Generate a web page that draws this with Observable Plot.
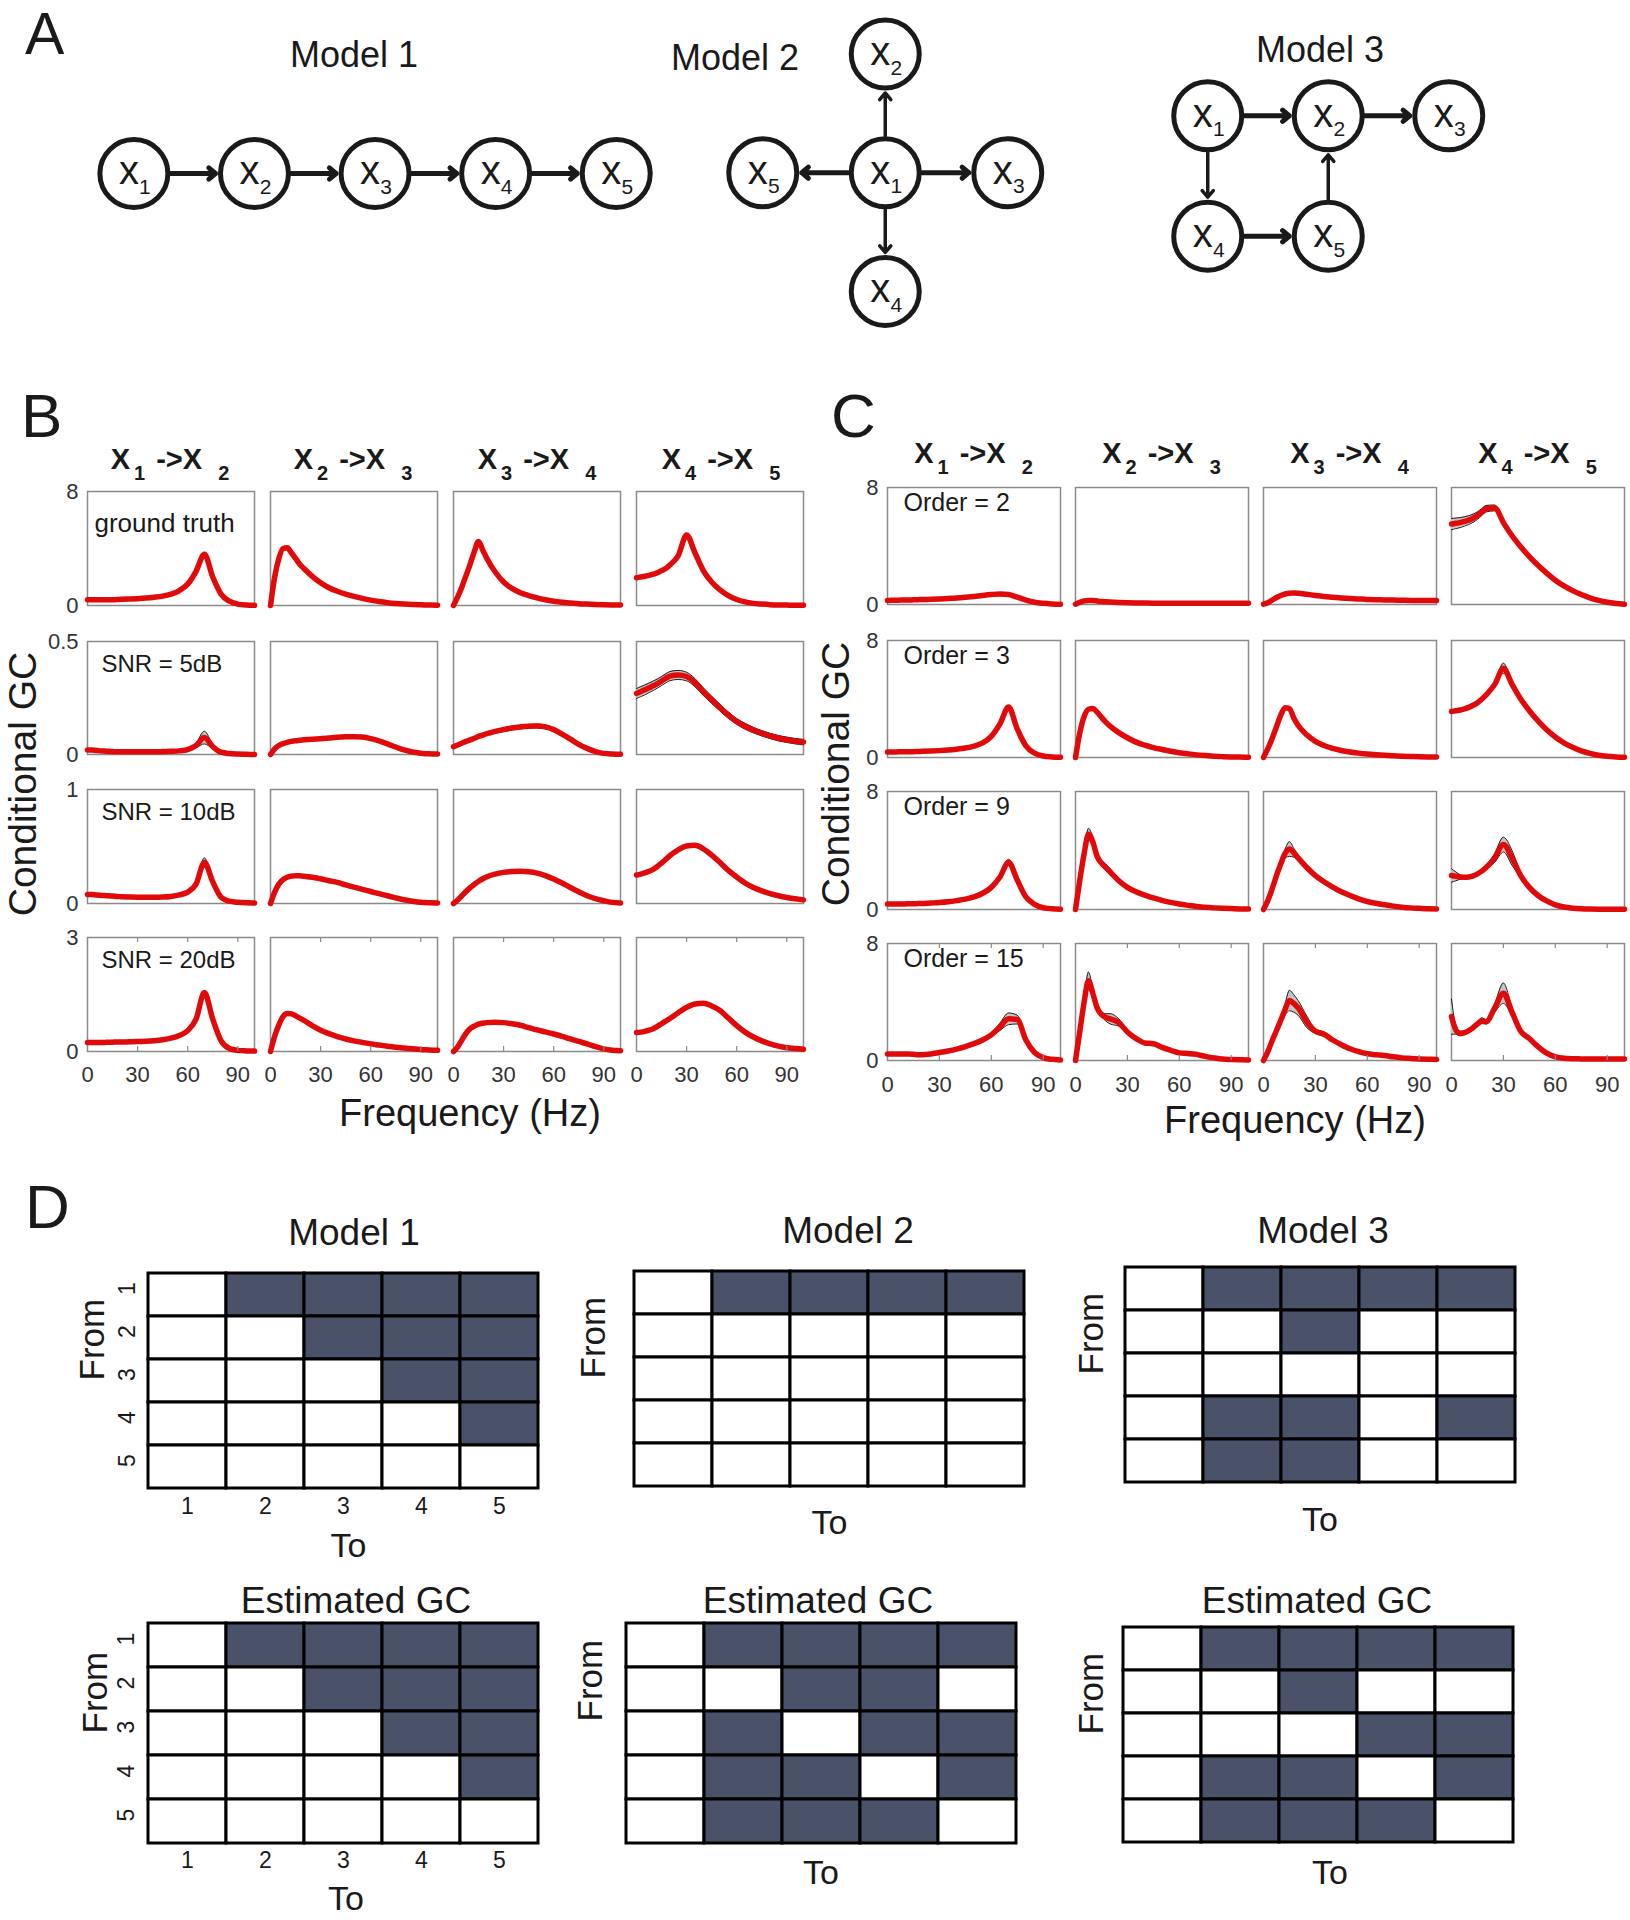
<!DOCTYPE html>
<html>
<head>
<meta charset="utf-8">
<script src="https://cdn.jsdelivr.net/npm/d3@7"></script>
<script src="https://cdn.jsdelivr.net/npm/@observablehq/plot@0.6"></script>
<style>
html, body { margin: 0; padding: 0; background: #fff; }
#fig { position: relative; width: 1630px; height: 1920px; overflow: hidden; background: #fff;
  font-family: "Liberation Sans", Arial, Helvetica, sans-serif; }
#fig .p { position: absolute; }
#fig svg { overflow: visible; }
#overlay { position: absolute; left: 0; top: 0; pointer-events: none; }
</style>
</head>
<body>
<div id="fig"></div>
<script>
// ---------------- DATA ----------------
// Panel A: network layouts (grid units) and directed edges
const model1Nodes = [{id:1,gx:0,gy:0},{id:2,gx:1,gy:0},{id:3,gx:2,gy:0},{id:4,gx:3,gy:0},{id:5,gx:4,gy:0}];
const model1Edges = [[1,2],[2,3],[3,4],[4,5]];
const model2Nodes = [{id:1,gx:0,gy:0},{id:2,gx:0,gy:-1},{id:3,gx:1,gy:0},{id:4,gx:0,gy:1},{id:5,gx:-1,gy:0}];
const model2Edges = [[1,2],[1,3],[1,4],[1,5]];
const model3Nodes = [{id:1,gx:0,gy:0},{id:2,gx:1,gy:0},{id:3,gx:2,gy:0},{id:4,gx:0,gy:1},{id:5,gx:1,gy:1}];
const model3Edges = [[1,2],[2,3],[1,4],[4,5],[5,2]];
const modelTitles = ["Model 1", "Model 2", "Model 3"];

// Panels B and C: spectral conditional GC
const freq = [0,2.5,5,7.5,10,12.5,15,17.5,20,25,30,35,40,45,50,55,60,65,70,75,80,85,90,95,100];
const freqTicks = [0, 30, 60, 90];
const pairs = ["x1→x2", "x2→x3", "x3→x4", "x4→x5"];
const pairFrom = [1, 2, 3, 4];
const pairTo = [2, 3, 4, 5];

const bLabels = ["ground truth", "SNR = 5dB", "SNR = 10dB", "SNR = 20dB"];
const bYMax = [8, 0.5, 1, 3];
const bGroundTruth = [
  [0.4,0.4,0.4,0.4,0.4,0.4,0.4,0.42,0.43,0.45,0.48,0.52,0.58,0.66,0.8,1.05,1.5,2.4,3.6,2.0,0.8,0.3,0.1,0.03,0.01],
  [0,2.0,3.3,4.0,4.05,3.7,3.3,2.9,2.6,2.05,1.6,1.25,1.0,0.8,0.64,0.5,0.38,0.28,0.2,0.14,0.1,0.07,0.05,0.03,0.02],
  [0,0.6,1.3,2.1,2.9,3.8,4.5,3.9,3.3,2.35,1.65,1.2,0.9,0.7,0.54,0.4,0.3,0.23,0.18,0.13,0.1,0.07,0.05,0.04,0.03],
  [1.95,2.0,2.05,2.12,2.2,2.3,2.45,2.6,2.85,3.5,4.95,3.7,2.45,1.65,1.1,0.7,0.42,0.25,0.15,0.1,0.06,0.04,0.03,0.02,0.02]
];
const bSNR5 = [
  [0.02,0.02,0.018,0.016,0.015,0.014,0.013,0.012,0.012,0.012,0.012,0.012,0.012,0.013,0.014,0.016,0.022,0.04,0.075,0.035,0.01,0.004,0.002,0.001,0],
  [0,0.025,0.04,0.048,0.054,0.058,0.061,0.063,0.065,0.068,0.07,0.073,0.076,0.078,0.079,0.077,0.07,0.06,0.047,0.033,0.02,0.011,0.006,0.003,0.002],
  [0.035,0.042,0.05,0.058,0.065,0.072,0.08,0.086,0.092,0.102,0.11,0.117,0.122,0.125,0.126,0.122,0.11,0.09,0.068,0.045,0.027,0.013,0.005,0.002,0.001],
  [0.27,0.278,0.286,0.295,0.304,0.314,0.325,0.337,0.347,0.352,0.345,0.318,0.278,0.242,0.207,0.174,0.146,0.125,0.108,0.094,0.082,0.072,0.065,0.059,0.055]
];
const bSNR5Spread = [
  [0.004,0.003,0.003,0.003,0.003,0.003,0.003,0.003,0.003,0.003,0.003,0.003,0.003,0.003,0.003,0.003,0.004,0.01,0.028,0.01,0.004,0.002,0.002,0.001,0.001],
  null,
  [0.004,0.004,0.005,0.005,0.005,0.006,0.006,0.006,0.007,0.007,0.008,0.008,0.008,0.008,0.008,0.008,0.007,0.006,0.005,0.005,0.004,0.003,0.003,0.003,0.003],
  [0.022,0.022,0.022,0.021,0.021,0.02,0.02,0.02,0.02,0.02,0.019,0.018,0.017,0.016,0.015,0.014,0.013,0.013,0.012,0.012,0.012,0.012,0.012,0.012,0.012]
];
const bSNR10 = [
  [0.08,0.078,0.075,0.072,0.07,0.067,0.065,0.062,0.06,0.057,0.055,0.054,0.054,0.056,0.062,0.075,0.1,0.17,0.36,0.19,0.055,0.02,0.01,0.006,0.005],
  [0,0.1,0.17,0.21,0.23,0.24,0.244,0.243,0.24,0.23,0.217,0.2,0.185,0.163,0.143,0.124,0.105,0.086,0.068,0.05,0.033,0.02,0.01,0.006,0.004],
  [0,0.03,0.068,0.105,0.14,0.168,0.195,0.217,0.235,0.258,0.273,0.28,0.282,0.278,0.267,0.245,0.215,0.18,0.14,0.103,0.068,0.042,0.024,0.01,0.005],
  [0.25,0.258,0.268,0.282,0.3,0.325,0.355,0.387,0.42,0.47,0.505,0.51,0.48,0.425,0.36,0.29,0.232,0.18,0.14,0.11,0.087,0.068,0.053,0.042,0.032]
];
const bSNR10Spread = [
  [0.005,0.005,0.005,0.005,0.005,0.005,0.005,0.005,0.005,0.005,0.005,0.005,0.005,0.005,0.005,0.005,0.006,0.012,0.04,0.012,0.005,0.005,0.005,0.005,0.005],
  null,
  null,
  [0.008,0.008,0.008,0.008,0.008,0.009,0.01,0.011,0.012,0.014,0.015,0.015,0.014,0.012,0.01,0.009,0.008,0.008,0.008,0.008,0.008,0.008,0.008,0.008,0.008]
];
const bSNR20 = [
  [0.24,0.24,0.24,0.24,0.24,0.245,0.245,0.25,0.25,0.255,0.26,0.27,0.285,0.31,0.35,0.42,0.55,0.85,1.55,0.85,0.28,0.08,0.03,0.015,0.01],
  [0,0.4,0.7,0.92,1.0,0.99,0.94,0.88,0.82,0.68,0.56,0.47,0.39,0.33,0.28,0.24,0.2,0.17,0.14,0.11,0.09,0.07,0.05,0.04,0.03],
  [0,0.12,0.3,0.48,0.6,0.67,0.72,0.745,0.76,0.77,0.76,0.73,0.69,0.63,0.57,0.515,0.46,0.4,0.33,0.265,0.2,0.13,0.07,0.035,0.02],
  [0.5,0.51,0.53,0.56,0.6,0.66,0.73,0.8,0.87,1.02,1.16,1.25,1.27,1.2,1.08,0.88,0.68,0.51,0.38,0.28,0.2,0.14,0.1,0.08,0.06]
];

const cLabels = ["Order = 2", "Order = 3", "Order = 9", "Order = 15"];
const cYMax = [8, 8, 8, 8];
const cOrder2 = [
  [0.28,0.29,0.29,0.3,0.3,0.31,0.32,0.33,0.34,0.36,0.38,0.41,0.44,0.49,0.55,0.62,0.68,0.72,0.68,0.5,0.3,0.15,0.08,0.04,0.02],
  [0.02,0.15,0.25,0.28,0.27,0.24,0.21,0.19,0.17,0.14,0.12,0.11,0.1,0.09,0.09,0.08,0.08,0.08,0.08,0.08,0.08,0.08,0.08,0.08,0.08],
  [0.02,0.12,0.3,0.48,0.62,0.72,0.77,0.78,0.77,0.7,0.62,0.55,0.5,0.45,0.41,0.38,0.35,0.33,0.31,0.3,0.29,0.28,0.28,0.27,0.27],
  [5.5,5.55,5.6,5.68,5.77,5.9,6.08,6.32,6.55,6.6,5.6,4.7,3.95,3.28,2.68,2.14,1.66,1.27,0.95,0.68,0.46,0.28,0.15,0.07,0.02]
];
const cOrder2Spread = [null, null, null,
  [0.38,0.36,0.34,0.32,0.3,0.28,0.26,0.24,0.22,0.2,0.25,0.12,0.06,0.05,0.05,0.04,0.04,0.03,0.03,0.03,0.02,0.02,0.02,0.02,0.02]
];
const cOrder3 = [
  [0.38,0.38,0.38,0.39,0.39,0.4,0.4,0.41,0.42,0.44,0.47,0.51,0.57,0.65,0.78,1.0,1.45,2.3,3.45,1.95,0.8,0.3,0.1,0.04,0.02],
  [0,1.7,2.8,3.3,3.35,3.1,2.75,2.42,2.15,1.7,1.35,1.05,0.85,0.68,0.55,0.43,0.33,0.25,0.18,0.13,0.09,0.06,0.04,0.03,0.02],
  [0,0.6,1.3,2.1,2.9,3.4,3.35,2.7,2.2,1.55,1.1,0.82,0.62,0.48,0.38,0.3,0.24,0.19,0.15,0.12,0.09,0.07,0.05,0.04,0.03],
  [3.15,3.2,3.25,3.33,3.43,3.57,3.75,3.98,4.28,5.0,6.1,5.0,4.0,3.2,2.5,1.9,1.4,1.0,0.7,0.45,0.28,0.15,0.08,0.04,0.02]
];
const cOrder3Spread = [null, null, null,
  [0.06,0.06,0.06,0.06,0.06,0.06,0.06,0.06,0.07,0.1,0.35,0.1,0.06,0.05,0.05,0.04,0.04,0.04,0.03,0.03,0.03,0.03,0.03,0.03,0.03]
];
const cOrder9 = [
  [0.38,0.38,0.38,0.38,0.38,0.39,0.39,0.4,0.41,0.44,0.47,0.52,0.6,0.7,0.85,1.1,1.5,2.2,3.2,2.0,0.85,0.35,0.12,0.05,0.02],
  [0,2.0,3.8,5.1,4.6,3.6,3.15,2.85,2.55,1.95,1.5,1.2,0.98,0.78,0.62,0.48,0.37,0.28,0.2,0.15,0.11,0.08,0.06,0.04,0.03],
  [0,0.6,1.4,2.3,3.1,3.8,4.1,3.85,3.5,2.85,2.3,1.88,1.52,1.2,0.95,0.72,0.54,0.42,0.32,0.23,0.16,0.11,0.08,0.05,0.04],
  [2.3,2.25,2.2,2.18,2.2,2.28,2.42,2.6,2.85,3.5,4.4,3.5,2.3,1.5,0.95,0.58,0.32,0.17,0.09,0.05,0.03,0.02,0.02,0.02,0.02]
];
const cOrder9Spread = [
  [0.03,0.03,0.03,0.03,0.03,0.03,0.03,0.03,0.03,0.03,0.03,0.03,0.03,0.04,0.05,0.06,0.08,0.12,0.2,0.1,0.05,0.04,0.03,0.03,0.03],
  [0.03,0.1,0.2,0.4,0.3,0.15,0.15,0.22,0.22,0.12,0.06,0.05,0.05,0.04,0.04,0.03,0.03,0.03,0.03,0.03,0.03,0.03,0.03,0.03,0.03],
  [0.03,0.05,0.08,0.12,0.2,0.3,0.5,0.3,0.2,0.12,0.08,0.1,0.06,0.05,0.04,0.04,0.03,0.03,0.03,0.03,0.03,0.03,0.03,0.03,0.03],
  [0.45,0.3,0.15,0.08,0.06,0.06,0.06,0.07,0.1,0.3,0.5,0.5,0.15,0.08,0.05,0.04,0.03,0.03,0.03,0.03,0.02,0.02,0.02,0.02,0.02]
];
const cOrder15 = [
  [0.45,0.45,0.44,0.44,0.45,0.44,0.42,0.4,0.4,0.45,0.55,0.65,0.78,0.95,1.15,1.4,1.75,2.3,2.85,2.8,1.4,0.55,0.2,0.08,0.04],
  [0,2.0,4.0,5.45,4.6,3.6,3.15,2.95,2.85,2.6,1.95,1.5,1.2,1.15,0.9,0.7,0.52,0.48,0.42,0.28,0.18,0.1,0.07,0.05,0.04],
  [0,0.6,1.35,2.05,2.75,3.5,4.1,3.9,3.6,2.65,2.0,1.8,1.4,1.08,0.8,0.6,0.46,0.4,0.34,0.25,0.18,0.14,0.11,0.09,0.07],
  [3.0,2.1,1.85,1.9,2.05,2.25,2.5,2.72,2.65,3.6,4.6,3.3,2.0,1.5,0.95,0.5,0.25,0.15,0.12,0.11,0.1,0.1,0.1,0.1,0.1]
];
const cOrder15Spread = [
  [0.03,0.03,0.03,0.03,0.03,0.03,0.03,0.03,0.03,0.03,0.03,0.04,0.04,0.04,0.05,0.06,0.1,0.25,0.4,0.3,0.1,0.05,0.03,0.03,0.03],
  [0.03,0.1,0.3,0.6,0.3,0.2,0.15,0.25,0.35,0.25,0.1,0.08,0.06,0.06,0.05,0.04,0.04,0.04,0.04,0.03,0.03,0.03,0.03,0.03,0.03],
  [0.03,0.05,0.08,0.15,0.25,0.4,0.7,0.6,0.5,0.4,0.15,0.15,0.08,0.06,0.05,0.04,0.04,0.04,0.04,0.03,0.03,0.03,0.03,0.03,0.03],
  [1.2,0.3,0.15,0.1,0.08,0.08,0.1,0.2,0.15,0.3,0.7,0.3,0.15,0.08,0.06,0.05,0.04,0.04,0.03,0.03,0.03,0.03,0.03,0.03,0.03]
];

// Panel D: connectivity matrices (row = From, column = To)
const nodeIds = [1, 2, 3, 4, 5];
const m1Truth = [[0,1,1,1,1],[0,0,1,1,1],[0,0,0,1,1],[0,0,0,0,1],[0,0,0,0,0]];
const m1Est   = [[0,1,1,1,1],[0,0,1,1,1],[0,0,0,1,1],[0,0,0,0,1],[0,0,0,0,0]];
const m2Truth = [[0,1,1,1,1],[0,0,0,0,0],[0,0,0,0,0],[0,0,0,0,0],[0,0,0,0,0]];
const m2Est   = [[0,1,1,1,1],[0,0,1,1,0],[0,1,0,1,1],[0,1,1,0,1],[0,1,1,1,0]];
const m3Truth = [[0,1,1,1,1],[0,0,1,0,0],[0,0,0,0,0],[0,1,1,0,1],[0,1,1,0,0]];
const m3Est   = [[0,1,1,1,1],[0,0,1,0,0],[0,0,0,1,1],[0,1,1,0,1],[0,1,1,1,0]];

// ---------------- STYLE ----------------
const FONT = '"Liberation Sans", Arial, Helvetica, sans-serif';
const NARROW = '"Liberation Sans Narrow", "Arial Narrow", "Liberation Sans", Arial, sans-serif';
const RED = "#e10a0a";
const FRAME = "#8a8a8a";
const BAND = "#c4c4c4";
const DARK = "#4a5269";
const INK = "#1a1a1a";
const curve = "monotone-x";

const fig = document.getElementById("fig");
function place(svg, left, top) {
  const d = document.createElement("div");
  d.className = "p";
  d.style.left = left + "px";
  d.style.top = top + "px";
  d.appendChild(svg);
  fig.appendChild(d);
}
const baseStyle = {background: "transparent", fontFamily: FONT, color: "#333", overflow: "visible"};

// ---------------- PANEL A ----------------
function networkPlot(nodes, edges, sx, sy, xdom, ydom) {
  const byId = new Map(nodes.map(n => [n.id, n]));
  const links = edges.map(([a, b]) => ({
    x1: byId.get(a).gx, y1: byId.get(a).gy, x2: byId.get(b).gx, y2: byId.get(b).gy,
    vertical: byId.get(a).gx === byId.get(b).gx
  }));
  return Plot.plot({
    width: (xdom[1] - xdom[0]) * sx, height: (ydom[1] - ydom[0]) * sy, margin: 0,
    x: {domain: xdom, axis: null}, y: {domain: ydom, reverse: true, axis: null},
    style: baseStyle,
    marks: [
      Plot.arrow(links, {x1: "x1", y1: "y1", x2: "x2", y2: "y2", stroke: INK,
        strokeWidth: d => d.vertical ? 3.5 : 5, insetStart: 37, insetEnd: 39, headLength: 13, headAngle: 80}),
      Plot.dot(nodes, {x: "gx", y: "gy", r: 34, fill: "white", stroke: INK, strokeWidth: 5}),
      Plot.text(nodes, {x: "gx", y: "gy", text: () => "x", fontSize: 40, dx: -5, dy: -2, fill: INK, fontFamily: NARROW}),
      Plot.text(nodes, {x: "gx", y: "gy", text: d => String(d.id), fontSize: 21, dx: 11, dy: 14, fill: INK, fontFamily: NARROW})
    ]
  });
}
place(networkPlot(model1Nodes, model1Edges, 120.6, 120, [-0.6, 4.6], [-0.6, 0.6]), 133.5 - 0.6 * 120.6, 172.5 - 72);
place(networkPlot(model2Nodes, model2Edges, 122.5, 118.75, [-1.5, 1.5], [-1.45, 1.45]), 884.5 - 1.5 * 122.5, 172.5 - 1.45 * 118.75);
place(networkPlot(model3Nodes, model3Edges, 120.5, 120.5, [-0.5, 2.5], [-0.5, 1.5]), 1207 - 0.5 * 120.5, 115 - 0.5 * 120.5);

// ---------------- PANELS B & C ----------------
function gcRow(vals, spreads, ymax, label, o) {
  const lineData = [], bandData = [];
  pairs.forEach((p, ci) => freq.forEach((f, i) => {
    lineData.push({pair: p, f, v: vals[ci][i]});
    if (spreads && spreads[ci]) {
      bandData.push({pair: p, f, lo: Math.max(0, vals[ci][i] - spreads[ci][i]), hi: vals[ci][i] + spreads[ci][i]});
    }
  }));
  const marks = [
    Plot.frame({stroke: FRAME, strokeWidth: 1.5}),
    Plot.areaY(bandData, {x: "f", y1: "lo", y2: "hi", fx: "pair", fill: BAND, curve}),
    Plot.line(bandData, {x: "f", y: "lo", fx: "pair", stroke: INK, strokeWidth: 1, curve}),
    Plot.line(bandData, {x: "f", y: "hi", fx: "pair", stroke: INK, strokeWidth: 1, curve}),
    Plot.line(lineData, {x: "f", y: "v", fx: "pair", stroke: RED, strokeWidth: 5.5, curve}),
    Plot.axisY({ticks: [0, ymax], tickSize: 0, tickPadding: 9, fontSize: 22, label: null, tickFormat: d => String(d)}),
    Plot.text([{pair: pairs[0], t: label}], {fx: "pair", text: "t", frameAnchor: "top-left", textAnchor: "start",
      lineAnchor: "top", dx: o.labelDx, dy: o.labelDy, fontSize: o.labelSize, fill: INK})
  ];
  const mb = o.bottom ? 50 : 10;
  if (o.bottom) {
    marks.push(
      Plot.axisX({ticks: freqTicks, tickSize: 0, tickPadding: o.tickPad, fontSize: 22, label: null}),
      Plot.ruleX(freqTicks.slice(1), {y1: 0, y2: ymax * 5 / o.boxH, stroke: FRAME, strokeWidth: 1.2}),
      Plot.ruleX(freqTicks.slice(1), {y1: ymax, y2: ymax * (1 - 5 / o.boxH), stroke: FRAME, strokeWidth: 1.2})
    );
  }
  const svg = Plot.plot({
    width: o.marginLeft + o.span + o.marginRight,
    height: 10 + o.boxH + mb,
    marginLeft: o.marginLeft, marginRight: o.marginRight, marginTop: 10, marginBottom: mb,
    fx: {domain: pairs, paddingInner: o.padInner, paddingOuter: 0, axis: null, label: null},
    x: {domain: [0, 100], axis: o.bottom ? undefined : null},
    y: {domain: [0, ymax]},
    style: baseStyle,
    marks
  });
  place(svg, o.boxLeft - o.marginLeft, o.boxTop - 10);
}

const bTops = [491, 641, 789, 937], bHeights = [114, 113, 114, 114];
const bData = [[bGroundTruth, null], [bSNR5, bSNR5Spread], [bSNR10, bSNR10Spread], [bSNR20, null]];
bData.forEach(([vals, sp], r) => gcRow(vals, sp, bYMax[r], bLabels[r], {
  boxLeft: 86, span: 719, marginLeft: 60, marginRight: 14, padInner: 1 - 168 / 183.67,
  boxTop: bTops[r], boxH: bHeights[r], bottom: r === 3, tickPad: 15,
  labelDx: r === 0 ? 7 : 14, labelDy: r === 0 ? 22 : 13, labelSize: r === 0 ? 26 : 24
}));

const cTops = [487, 640, 791, 943], cHeights = [117, 117, 118, 117];
const cData = [[cOrder2, cOrder2Spread], [cOrder3, cOrder3Spread], [cOrder9, cOrder9Spread], [cOrder15, cOrder15Spread]];
cData.forEach(([vals, sp], r) => gcRow(vals, sp, cYMax[r], cLabels[r], {
  boxLeft: 887, span: 737, marginLeft: 60, marginRight: 3, padInner: 1 - 173 / 188,
  boxTop: cTops[r], boxH: cHeights[r], bottom: r === 3, tickPad: 16,
  labelDx: 16, labelDy: 6, labelSize: 25
}));

// ---------------- PANEL D ----------------
function matrixPlot(mat, o) {
  const cells = mat.flatMap((row, i) => row.map((v, j) => ({from: nodeIds[i], to: nodeIds[j], v})));
  const ml = 80, mt = 4, mr = 6, mb = 90;
  const marks = [
    Plot.cell(cells, {x: "to", y: "from", fill: "v", stroke: "#000", strokeWidth: 3, inset: 0}),
    Plot.text(["To"], {frameAnchor: "bottom", dy: o.toDy, dx: o.toDx || 0, fontSize: 34, fill: INK}),
    Plot.text(["From"], {frameAnchor: "left", dx: o.fromDx, dy: o.fromDy || 0, rotate: -90, fontSize: 35, fill: INK})
  ];
  if (o.ticks) {
    marks.push(
      Plot.text(nodeIds, {x: d => d, frameAnchor: "bottom", dy: 8, lineAnchor: "top", fontSize: 23, fill: INK, text: d => String(d)}),
      Plot.text(nodeIds, {y: d => d, frameAnchor: "left", dx: -20, rotate: -90, fontSize: 23, fill: INK, text: d => String(d)})
    );
  }
  const svg = Plot.plot({
    width: ml + o.w + mr, height: mt + o.h + mb,
    marginLeft: ml, marginTop: mt, marginRight: mr, marginBottom: mb,
    x: {domain: nodeIds, padding: 0, axis: null},
    y: {domain: nodeIds, padding: 0, axis: null},
    color: {type: "ordinal", domain: [0, 1], range: ["#ffffff", DARK]},
    style: baseStyle,
    marks
  });
  place(svg, o.left - ml, o.top - mt);
}
matrixPlot(m1Truth, {left: 147, top: 1271, w: 392, h: 218, ticks: true, toDy: 67, toDx: 5, fromDx: -55});
matrixPlot(m2Truth, {left: 633, top: 1269, w: 392, h: 218, toDy: 46, fromDx: -40});
matrixPlot(m3Truth, {left: 1123, top: 1265, w: 393, h: 218, toDy: 47, fromDx: -32});
matrixPlot(m1Est,   {left: 146, top: 1623, w: 393, h: 220, ticks: true, toDy: 66, toDx: 3, fromDx: -51});
matrixPlot(m2Est,   {left: 624, top: 1623, w: 393, h: 220, toDy: 40, fromDx: -34, fromDy: -12});
matrixPlot(m3Est,   {left: 1121, top: 1625, w: 393, h: 218, toDy: 40, toDx: 12, fromDx: -30});

// ---------------- ANNOTATION OVERLAY ----------------
const ov = d3.create("svg").attr("id", "overlay").attr("width", 1630).attr("height", 1920)
  .style("font-family", FONT).attr("fill", INK);
function txt(x, y, s, size, opts = {}) {
  const t = ov.append("text").attr("x", x).attr("y", y).attr("font-size", size)
    .attr("text-anchor", opts.anchor || "middle").text(s);
  if (opts.weight) t.attr("font-weight", opts.weight);
  if (opts.rotate) t.attr("transform", `rotate(${opts.rotate},${x},${y})`);
  return t;
}
// panel letters
txt(25, 54, "A", 59, {anchor: "start"});
txt(21, 437, "B", 62, {anchor: "start"});
txt(831, 437, "C", 62, {anchor: "start"});
txt(25, 1228, "D", 62, {anchor: "start"});
// panel A titles
txt(354, 67, modelTitles[0], 36);
txt(735, 70, modelTitles[1], 36);
txt(1320, 62, modelTitles[2], 36);
// column headers for B and C
function header(cx, baseY, from, to) {
  const t = ov.append("text").attr("x", cx).attr("y", baseY).attr("text-anchor", "middle")
    .attr("font-size", 29).attr("font-weight", "bold");
  t.append("tspan").text("X");
  t.append("tspan").attr("font-size", 20).attr("dy", 11).attr("dx", 4).text(String(from));
  t.append("tspan").attr("dy", -11).attr("dx", 11).text("->X");
  t.append("tspan").attr("font-size", 20).attr("dy", 11).attr("dx", 16).text(String(to));
}
[170, 353, 537, 721].forEach((cx, i) => header(cx, 469, pairFrom[i], pairTo[i]));
[973.5, 1161.5, 1349.5, 1537.5].forEach((cx, i) => header(cx, 463, pairFrom[i], pairTo[i]));
// axis titles for B and C
txt(36, 784, "Conditional GC", 39, {rotate: -90});
txt(849, 774, "Conditional GC", 39, {rotate: -90});
txt(470, 1126, "Frequency (Hz)", 38);
txt(1295, 1133, "Frequency (Hz)", 38);
// panel D titles
txt(354, 1245, modelTitles[0], 37);
txt(848, 1243, modelTitles[1], 37);
txt(1323, 1243, modelTitles[2], 37);
txt(356, 1613, "Estimated GC", 37);
txt(818, 1613, "Estimated GC", 37);
txt(1317, 1613, "Estimated GC", 37);

fig.appendChild(ov.node());
</script>
</body>
</html>
